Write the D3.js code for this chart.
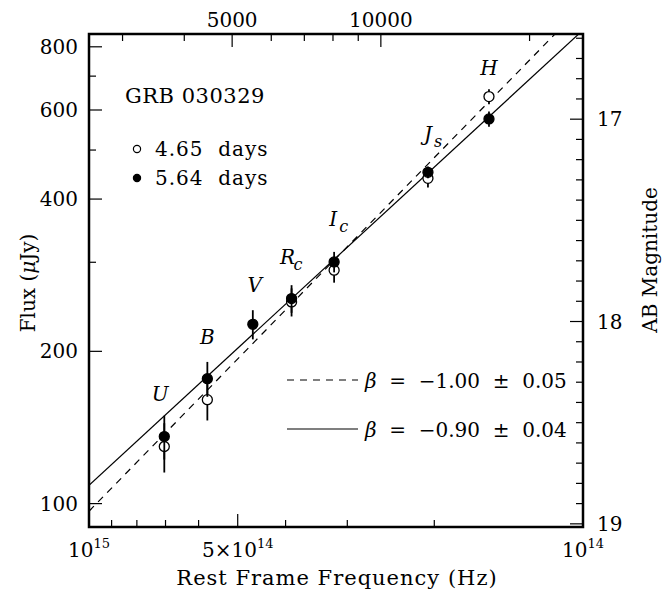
<!DOCTYPE html>
<html>
<head>
<meta charset="utf-8">
<script src="https://cdn.jsdelivr.net/npm/d3@7"></script>
<style>
  body { margin: 0; background: #fff; }
  text { font-family: "DejaVu Serif", serif; fill: #000; }
</style>
</head>
<body>
<div id="graph-holder"></div>
<script>
// band data (frequency in units of 1e14 Hz, flux in microJy)
var bands = ["U", "B", "V", "R", "I", "J", "H"];
var bandSubs = ["", "", "", "c", "c", "s", ""];
var freq = [7.04, 5.76, 4.66, 3.89, 3.19, 2.06, 1.55];

// 4.65 days (open circles)
var flux1 = [129.7, 160.5, null, 250.4, 289.4, 439.6, 637.7];
var err1 = [14.5, 14.5, null, 16, 16, 18, 22];

// 5.64 days (filled circles)
var flux2 = [135.7, 176.6, 226.2, 254.3, 300.5, 451.8, 576.1];
var err2 = [13.5, 14, 15, 16, 14, 12, 20];

// power law fits F = norm * (nu / 1e15)^beta
var fitBeta = [-1.0, -0.9];
var fitNorm = [96.6, 108.7];
var fitValues = ["\u22121.00  \u00b1  0.05", "\u22120.90  \u00b1  0.04"];

// tick values
var fluxMajor = [100, 200, 400, 600, 800];
var fluxMinor = [300, 500, 700];
var freqMinor = [9e14, 8e14, 7e14, 6e14, 4e14, 3e14, 2e14];
var waveMajor = [5000, 10000];
var waveMinor = [3000, 4000, 6000, 7000, 8000, 9000, 20000];
var magMajor = [17, 18, 19];
var zFactor = 1.1685;

var W = 671, H = 593;
// plot frame
var frame = { left: 89, right: 583, top: 34, bottom: 527 };
// how far each band label sits above its highest error bar
var labelLift = [15, 18, 18, 21, 26, 26, 14];
var labelShift = [-4, 0, 2, -4, -1, 0, 0];

var svg = d3.select("#graph-holder").append("svg")
  .attr("width", W).attr("height", H);

var x = d3.scaleLog().domain([1e15, 1e14]).range([frame.left, frame.right]);
var y = d3.scaleLog().domain([89.9, 848]).range([frame.bottom, frame.top]);

function magToFlux(m) { return Math.pow(10, (23.9 - m) / 2.5); }
function waveToFreq(w) { return 2.998e18 / zFactor / w; }

svg.append("clipPath").attr("id", "clip")
  .append("rect").attr("x", frame.left).attr("y", frame.top)
  .attr("width", frame.right - frame.left).attr("height", frame.bottom - frame.top);

var majLen = 13, minLen = 7;

function tickLine(x1, y1, x2, y2, w) {
  svg.append("line").attr("x1", x1).attr("y1", y1).attr("x2", x2).attr("y2", y2)
    .attr("stroke", "#000").attr("stroke-width", w || 1.2);
}

// left axis ticks
fluxMajor.forEach(function(v) {
  tickLine(frame.left, y(v), frame.left + majLen, y(v));
  svg.append("text").attr("x", 78).attr("y", y(v) + 7)
    .attr("text-anchor", "end").style("font-size", "20px").text(v);
});
fluxMinor.forEach(function(v) { tickLine(frame.left, y(v), frame.left + minLen, y(v)); });

// right axis (AB magnitude)
for (var m = 166; m <= 190; m++) {
  var yy = y(magToFlux(m / 10));
  var isMaj = m % 10 === 0;
  tickLine(frame.right - (isMaj ? majLen : minLen), yy, frame.right, yy);
}
magMajor.forEach(function(mg) {
  svg.append("text").attr("x", 597).attr("y", y(magToFlux(mg)) + 7)
    .style("font-size", "20px").text(mg);
});

// bottom axis
tickLine(x(5e14), frame.bottom, x(5e14), frame.bottom - majLen);
freqMinor.forEach(function(f) {
  tickLine(x(f), frame.bottom, x(f), frame.bottom - minLen);
});
function powLabel(xc, pre, exp) {
  var t = svg.append("text").attr("x", xc).attr("y", 557)
    .attr("text-anchor", "middle").style("font-size", "20px");
  t.append("tspan").text(pre);
  t.append("tspan").attr("dy", -9).style("font-size", "13px").text(exp);
}
powLabel(x(1e15), "10", "15");
powLabel(x(5e14), "5\u00d710", "14");
powLabel(x(1e14), "10", "14");

// top axis (wavelength)
waveMajor.forEach(function(w) {
  var xx = x(waveToFreq(w));
  tickLine(xx, frame.top, xx, frame.top + majLen);
  svg.append("text").attr("x", xx).attr("y", 27)
    .attr("text-anchor", "middle").style("font-size", "20px").text(w);
});
waveMinor.forEach(function(w) {
  var xx = x(waveToFreq(w));
  tickLine(xx, frame.top, xx, frame.top + minLen);
});

// fit lines
var fitLine = d3.line()
  .x(function(d) { return x(d[0]); })
  .y(function(d) { return y(d[1]); });
var fitDash = ["7,6", null];
fitBeta.forEach(function(b, i) {
  var pts = [1e15, 1e14].map(function(f) {
    return [f, fitNorm[i] * Math.pow(f / 1e15, b)];
  });
  svg.append("path").datum(pts)
    .attr("d", fitLine)
    .attr("clip-path", "url(#clip)")
    .attr("fill", "none").attr("stroke", "#000").attr("stroke-width", 1.2)
    .attr("stroke-dasharray", fitDash[i]);
});

// error bars and points
function drawSeries(flux, err, filled) {
  flux.forEach(function(f, i) {
    if (f === null) return;
    var xx = x(freq[i] * 1e14);
    svg.append("line")
      .attr("x1", xx).attr("x2", xx)
      .attr("y1", y(f + err[i])).attr("y2", y(f - err[i]))
      .attr("stroke", "#000").attr("stroke-width", 1.8);
    svg.append("circle")
      .attr("cx", xx).attr("cy", y(f)).attr("r", 5)
      .attr("fill", filled ? "#000" : "#fff")
      .attr("stroke", "#000").attr("stroke-width", 1.3);
  });
}
drawSeries(flux1, err1, false);
drawSeries(flux2, err2, true);

// band labels
bands.forEach(function(b, i) {
  var hi = flux2[i] + err2[i];
  if (flux1[i] !== null) hi = Math.max(hi, flux1[i] + err1[i]);
  var lx = x(freq[i] * 1e14) + labelShift[i];
  var ly = y(hi) - labelLift[i];
  svg.append("text").attr("x", lx).attr("y", ly)
    .attr("text-anchor", "middle")
    .style("font-size", "20px").style("font-style", "italic").text(b);
  if (bandSubs[i]) {
    svg.append("text").attr("x", lx + 6).attr("y", ly + 6)
      .style("font-size", "16px").style("font-style", "italic").text(bandSubs[i]);
  }
});

// title and point legend
svg.append("text").attr("x", 125).attr("y", 103)
  .style("font-size", "21px").style("letter-spacing", "0.5px").text("GRB 030329");

var legendLabels = ["4.65  days", "5.64  days"];
legendLabels.forEach(function(l, i) {
  var ly = 149 + i * 29;
  svg.append("circle").attr("cx", 137).attr("cy", ly).attr("r", 3.6)
    .attr("fill", i ? "#000" : "#fff").attr("stroke", "#000").attr("stroke-width", 1.2);
  svg.append("text").attr("x", 155).attr("y", ly + 7)
    .style("font-size", "20px").style("letter-spacing", "1px")
    .style("white-space", "pre").text(l);
});

// fit legend
fitValues.forEach(function(l, i) {
  var ly = 380 + i * 49;
  svg.append("line").attr("x1", 287).attr("x2", 358).attr("y1", ly).attr("y2", ly)
    .attr("stroke", "#000").attr("stroke-width", 1.2)
    .attr("stroke-dasharray", fitDash[i]);
  var t = svg.append("text").attr("x", 365).attr("y", ly + 8)
    .style("font-size", "20px").style("white-space", "pre");
  t.append("tspan").style("font-style", "italic").text("\u03b2");
  t.append("tspan").text("  =  " + l);
});

// frame
svg.append("rect").attr("x", frame.left).attr("y", frame.top)
  .attr("width", frame.right - frame.left).attr("height", frame.bottom - frame.top)
  .attr("fill", "none").attr("stroke", "#000").attr("stroke-width", 2.5);

// axis titles
svg.append("text").attr("x", 337).attr("y", 585)
  .attr("text-anchor", "middle").style("font-size", "21px")
  .style("letter-spacing", "1px")
  .text("Rest Frame Frequency (Hz)");

var fl = svg.append("text")
  .attr("transform", "translate(35,283) rotate(-90)")
  .attr("text-anchor", "middle").style("font-size", "20px");
fl.append("tspan").text("Flux (");
fl.append("tspan").style("font-style", "italic").text("\u03bc");
fl.append("tspan").text("Jy)");

svg.append("text")
  .attr("transform", "translate(657,260) rotate(-90)")
  .attr("text-anchor", "middle").style("font-size", "20px")
  .text("AB Magnitude");
</script>
</body>
</html>
